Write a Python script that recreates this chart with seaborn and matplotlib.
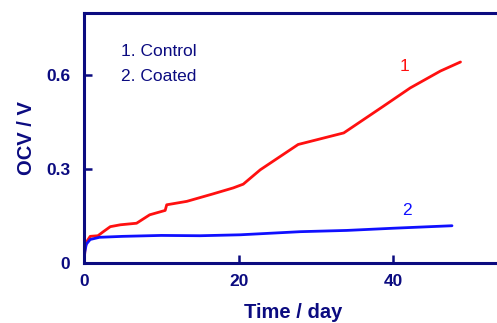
import numpy as np
import pandas as pd
import matplotlib
matplotlib.use("Agg")
import matplotlib.pyplot as plt
import seaborn as sns

# values
control_day = [0, 0.15, 0.4, 0.8, 1.8, 2.5, 3.4, 4.7, 6.8, 8.5, 10.5, 10.7, 13.3, 16.7,
               19.3, 20.6, 22.8, 27.7, 33.6, 38.7, 42.2, 46.1, 48.7]
control_ocv = [0.0, 0.05, 0.07, 0.085, 0.087, 0.1, 0.116, 0.122, 0.127, 0.154, 0.168, 0.186,
               0.197, 0.221, 0.24, 0.252, 0.298, 0.379, 0.416, 0.501, 0.56, 0.614, 0.643]
coated_day = [0, 0.1, 0.3, 0.8, 2.0, 5.0, 10.0, 15.0, 20.2, 28.0, 34.0, 40.0, 47.6]
coated_ocv = [0.0, 0.035, 0.06, 0.075, 0.082, 0.085, 0.088, 0.087, 0.090, 0.100, 0.104, 0.111, 0.119]

navy = "#0b0b80"

sns.set_style("ticks")
plt.rcParams['font.family'] = ['Liberation Sans', 'DejaVu Sans']

df = pd.concat([
    pd.DataFrame({"day": control_day, "ocv": control_ocv, "sample": "1"}),
    pd.DataFrame({"day": coated_day, "ocv": coated_ocv, "sample": "2"}),
])

fig = plt.figure(figsize=(4.97, 3.23), dpi=100)
ax = fig.add_axes([0.169, 0.186, 0.84, 0.774])
sns.lineplot(data=df, x="day", y="ocv", hue="sample", palette={"1": "#ff1010", "2": "#1010ff"},
             linewidth=2.0, legend=False, ax=ax, sort=False)

ax.set_xlim(0, 54)
ax.set_ylim(0, 0.8)
ax.set_xticks([0, 20, 40])
ax.set_yticks([0, 0.3, 0.6])
ax.set_yticklabels(["0", "0.3", "0.6"])
for s in ax.spines.values():
    s.set_color(navy)
    s.set_linewidth(2.2)
ax.tick_params(direction="in", length=6, width=1.8, color=navy, labelcolor=navy,
               labelsize=12.5, pad=8)
ax.tick_params(axis="y", pad=10)
for lab in ax.get_xticklabels() + ax.get_yticklabels():
    lab.set_fontweight("bold")

ax.set_xlabel("Time / day", fontsize=14.5, fontweight="bold", color=navy, labelpad=10)
ax.set_ylabel("OCV / V", fontsize=14.5, fontweight="bold", color=navy, labelpad=7)

ax.text(4.8, 0.678, "1. Control", fontsize=12.5, color=navy, va="center")
ax.text(4.8, 0.598, "2. Coated", fontsize=12.5, color=navy, va="center")
ax.text(41.4, 0.627, "1", fontsize=12.5, color="#ff1010", ha="center", va="center")
ax.text(41.8, 0.168, "2", fontsize=12.5, color="#1010ff", ha="center", va="center")

fig.savefig("out.png", dpi=100)
